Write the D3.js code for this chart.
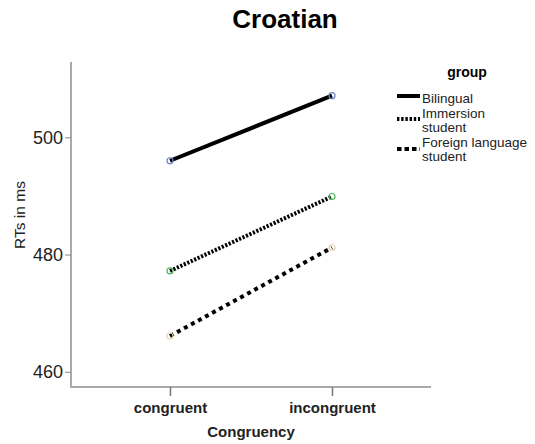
<!DOCTYPE html>
<html><head><meta charset="utf-8">
<script src="https://cdn.jsdelivr.net/npm/d3@7"></script>
<style>body{margin:0;background:#fff}svg{display:block;font-family:Arial,"Liberation Sans",sans-serif}</style>
</head><body>
<svg id="c" width="535" height="444"></svg>
<script>
const categories = ["congruent", "incongruent"];
const groups = ["Bilingual", "Immersion student", "Foreign language student"];
const bilingual = [496.0, 507.1];
const immersion = [477.2, 489.9];
const foreign = [466.1, 481.2];
const yTicks = [460, 480, 500];

const series = [
  {name: groups[0], label: ["Bilingual"], values: bilingual, dash: null, legendDash: null, marker: "#6d7fc4"},
  {name: groups[1], label: ["Immersion", "student"], values: immersion, dash: "2.2,1.6", legendDash: "2.4,1.8", marker: "#4cb85c"},
  {name: groups[2], label: ["Foreign language", "student"], values: foreign, dash: "4,4", legendDash: "4.5,3", marker: "#e3d7a8"}
];

const svg = d3.select("#c");
const x = d3.scalePoint().domain(categories).range([71, 431]).padding(0.611);
const y = d3.scaleLinear().domain([457.4, 512.85]).range([387, 62]);
const axisColor = "#aaaaaa";

svg.append("text").attr("x", 285).attr("y", 28).attr("text-anchor", "middle")
  .attr("font-size", 26).attr("font-weight", "bold").text("Croatian");

// y axis
const gy = svg.append("g").attr("transform", "translate(71,0)")
  .call(d3.axisLeft(y).tickValues(yTicks).tickSize(6).tickPadding(2).tickFormat(d3.format("d")));
gy.select(".domain").attr("stroke", axisColor).attr("stroke-width", 2).attr("d", "M0,62V387");
gy.selectAll(".tick line").attr("stroke", "#888");
gy.selectAll(".tick text").attr("font-size", 18).attr("fill", "#222").attr("font-family", "Arial, Liberation Sans, sans-serif");

// x axis
const gx = svg.append("g").attr("transform", "translate(0,387)")
  .call(d3.axisBottom(x).tickSize(9).tickPadding(6));
gx.select(".domain").attr("stroke", axisColor).attr("stroke-width", 2).attr("d", "M70,0H431");
gx.selectAll(".tick line").attr("stroke", "#777").attr("stroke-width", 1.5);
gx.selectAll(".tick text").attr("font-size", 15).attr("font-weight", "bold").attr("fill", "#222")
  .attr("font-family", "Arial, Liberation Sans, sans-serif");

svg.append("text").attr("x", 251).attr("y", 437).attr("text-anchor", "middle")
  .attr("font-size", 15).attr("font-weight", "bold").attr("fill", "#222").text("Congruency");
svg.append("text").attr("transform", "translate(25,215) rotate(-90)").attr("text-anchor", "middle")
  .attr("font-size", 15.5).attr("fill", "#222").text("RTs in ms");

const line = d3.line().x((d, i) => x(categories[i])).y(d => y(d));
series.forEach(s => {
  svg.append("path").datum(s.values).attr("d", line).attr("fill", "none")
    .attr("stroke", "#000").attr("stroke-width", 4)
    .attr("stroke-dasharray", s.dash);
  svg.selectAll(null).data(s.values).enter().append("circle")
    .attr("cx", (d, i) => x(categories[i])).attr("cy", d => y(d)).attr("r", 3)
    .attr("fill", "none").attr("stroke", s.marker).attr("stroke-width", 1.2);
});

// legend
svg.append("text").attr("x", 467).attr("y", 77).attr("text-anchor", "middle")
  .attr("font-size", 14).attr("font-weight", "bold").text("group");
const legY = [{line: 96, text: [103]}, {line: 119, text: [117.5, 132.1]}, {line: 149, text: [146.8, 161.4]}];
series.forEach((s, i) => {
  svg.append("line").attr("x1", 397).attr("x2", 420).attr("y1", legY[i].line).attr("y2", legY[i].line)
    .attr("stroke", "#000").attr("stroke-width", 4).attr("stroke-dasharray", s.legendDash);
  s.label.forEach((t, j) => {
    svg.append("text").attr("x", 422).attr("y", legY[i].text[j]).attr("font-size", 13.5)
      .attr("fill", "#222").text(t);
  });
});
</script>
</body></html>
